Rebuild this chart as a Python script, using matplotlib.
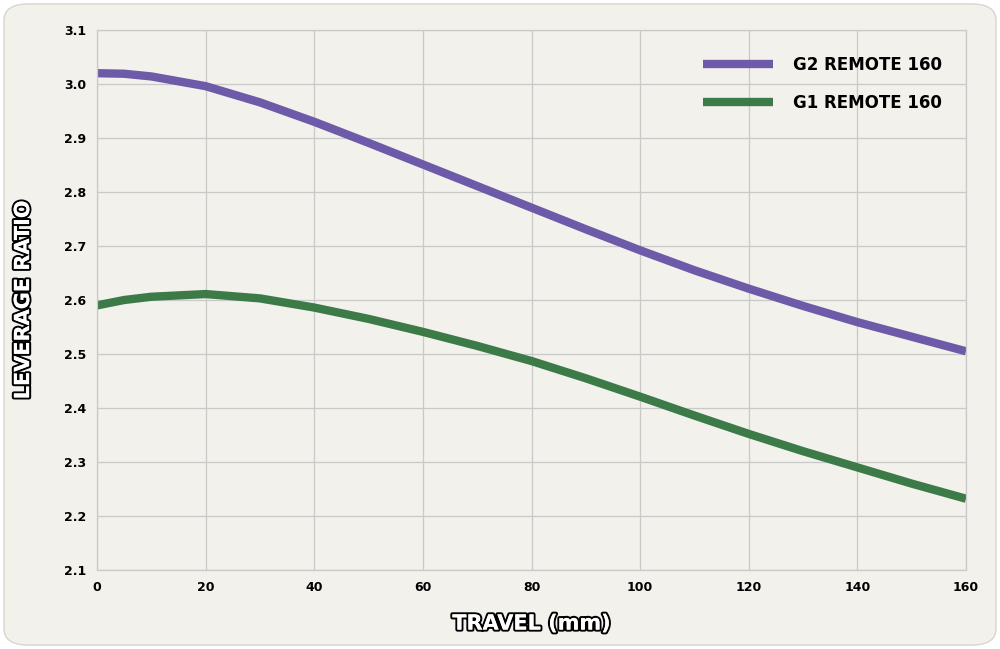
import matplotlib
matplotlib.use("Agg")
import matplotlib.pyplot as plt
from matplotlib.patches import FancyBboxPatch
import matplotlib.patheffects as pe
import numpy as np

travel = [0, 5, 10, 20, 30, 40, 50, 60, 70, 80, 90, 100, 110, 120, 130, 140, 150, 160]
g2 = [3.02, 3.019, 3.014, 2.996, 2.966, 2.930, 2.891, 2.851, 2.811, 2.771, 2.731, 2.692, 2.655, 2.621, 2.589, 2.559, 2.532, 2.505]
g1 = [2.590, 2.600, 2.606, 2.611, 2.603, 2.586, 2.565, 2.541, 2.515, 2.487, 2.455, 2.421, 2.386, 2.352, 2.320, 2.290, 2.260, 2.232]
xticks = [0, 20, 40, 60, 80, 100, 120, 140, 160]
yticks = [2.1, 2.2, 2.3, 2.4, 2.5, 2.6, 2.7, 2.8, 2.9, 3.0, 3.1]

bg = "#f3f1eb"
fig = plt.figure(figsize=(10, 6.49), dpi=100)
fig.patch.set_facecolor("white")
fig.patches.append(FancyBboxPatch((0.004, 0.006), 0.992, 0.988, boxstyle="round,pad=0,rounding_size=0.025",
                                  transform=fig.transFigure, facecolor=bg, edgecolor="#d8d5cc", lw=1, zorder=-10))
ax = fig.add_axes([0.097, 1 - 570/649, 0.869, 540/649])
ax.set_facecolor(bg)
ax.plot(travel, g2, color="#6d5aa8", lw=6, solid_capstyle="butt", label="G2 REMOTE 160")
ax.plot(travel, g1, color="#3c7a48", lw=6, solid_capstyle="butt", label="G1 REMOTE 160")
ax.set_xlim(0, 160); ax.set_ylim(2.1, 3.1)
ax.set_xticks(xticks); ax.set_yticks(yticks)
ax.set_xticklabels([str(t) for t in xticks]); ax.set_yticklabels([f"{t:.1f}" for t in yticks])
ax.grid(True, color="#c9c9c9", lw=0.9)
ax.set_axisbelow(True)
for s in ax.spines.values():
    s.set_color("#c9c9c9"); s.set_linewidth(0.9)
ax.tick_params(length=0, labelsize=9, pad=8)
for lab in ax.get_xticklabels() + ax.get_yticklabels():
    lab.set_fontweight("bold")
eff = [pe.withStroke(linewidth=3, foreground="black"), pe.Normal()]
ax.set_xlabel("TRAVEL (mm)", fontsize=15, fontweight="heavy", color="white", labelpad=14, path_effects=eff)
ax.set_ylabel("LEVERAGE RATIO", fontsize=15, fontweight="heavy", color="white", labelpad=22, path_effects=eff)
leg = ax.legend(loc="upper right", frameon=False, fontsize=12, handlelength=4.2, handletextpad=1.2,
                labelspacing=1.2, bbox_to_anchor=(0.99, 0.98))
for t in leg.get_texts():
    t.set_fontweight("heavy")
fig.savefig("out.png", dpi=100, facecolor="white")
